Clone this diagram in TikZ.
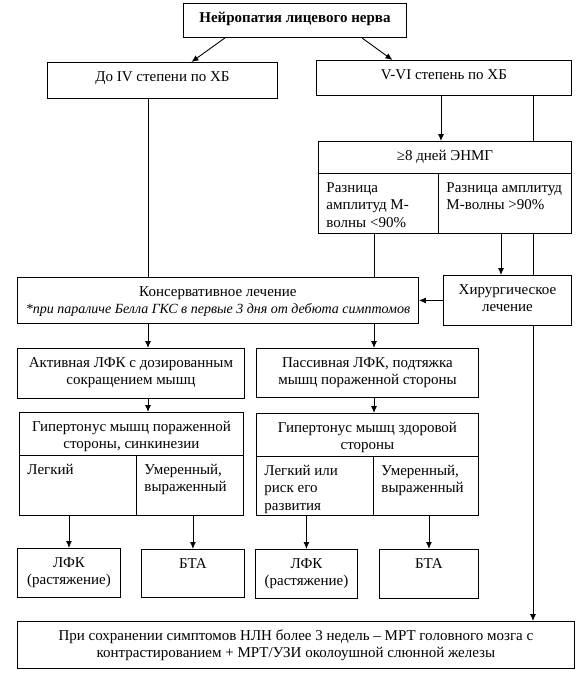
\documentclass[tikz,border=0pt]{standalone}
\usepackage{fontspec}
\setmainfont{Liberation Serif}
\usetikzlibrary{arrows.meta}

\newcommand{\boxtext}[3]{\parbox[c][\dimexpr #2pt-13pt\relax][t]{\dimexpr #1pt-16pt\relax}{#3}}

\begin{document}
\begin{tikzpicture}[x=1pt, y=-1pt]

  \tikzset{
    box/.style = {draw, line width=0.9pt, inner xsep=8pt, inner ysep=6.5pt,
      anchor=north west, font=\fontsize{15}{17.5}\selectfont},
    link/.style = {line width=0.9pt},
    arr/.style = {line width=0.9pt, -{Latex[length=7pt, width=6pt]}}}

  \useasboundingbox (0,0) rectangle (585,673);

  \coordinate (colA) at (148,0);
  \coordinate (colB) at (374,0);
  \coordinate (colC) at (441,0);
  \coordinate (colE) at (501,0);
  \coordinate (colD) at (533,0);

  \node[box] (title) at (183,3) {\boxtext{223}{34}{\centering\strut\bfseries Нейропатия лицевого нерва}};
  \node[box] (doIV) at (47,62) {\boxtext{230}{36}{\centering\strut До IV степени по ХБ}};
  \node[box] (vvi) at (316,60) {\boxtext{255}{35}{\centering\strut V-VI степень по ХБ}};

  \begin{scope}
    \node[box] (enmg) at (318,141) {\boxtext{253}{32}{\centering\strut ≥8 дней ЭНМГ}};
    \node[box] (enmgL) at (318,173) {\boxtext{120}{60}{\raggedright\strut Разница\\амплитуд М-\\волны <90\%}};
    \node[box] (enmgR) at (438,173) {\boxtext{133}{60}{\raggedright\strut\mbox{Разница амплитуд}\\М-волны >90\%}};
  \end{scope}

  \node[box] (kons) at (17,277) {\boxtext{401}{46}{\centering\strut Консервативное лечение\\\mbox{\fontsize{14}{17.5}\selectfont\itshape *при параличе Белла ГКС в первые 3 дня от дебюта симптомов}}};
  \node[box] (hir) at (443,275) {\boxtext{128}{50}{\centering\strut Хирургическое\\лечение}};

  \node[box] (aktiv) at (17,348) {\boxtext{227}{50}{\centering\strut Активная ЛФК с дозированным\\сокращением мышц}};
  \node[box] (passiv) at (256,348) {\boxtext{222}{49}{\centering\strut Пассивная ЛФК, подтяжка\\мышц пораженной стороны}};

  \begin{scope}
    \node[box] (gipL) at (19,412) {\boxtext{224}{43}{\centering\strut Гипертонус мышц пораженной\\стороны, синкинезии}};
    \node[box] (gipLa) at (19,455) {\boxtext{117}{60}{\raggedright\strut Легкий}};
    \node[box] (gipLb) at (136,455) {\boxtext{107}{60}{\raggedright\strut Умеренный,\\выраженный}};
  \end{scope}

  \begin{scope}
    \node[box] (gipR) at (256,413) {\boxtext{222}{43}{\centering\strut Гипертонус мышц здоровой\\стороны}};
    \node[box] (gipRa) at (256,456) {\boxtext{117}{59}{\raggedright\strut Легкий или\\риск его\\развития}};
    \node[box] (gipRb) at (373,456) {\boxtext{105}{59}{\raggedright\strut Умеренный,\\выраженный}};
  \end{scope}

  \node[box] (lfkL) at (17,548) {\boxtext{103}{49}{\centering\strut ЛФК\\(растяжение)}};
  \node[box] (btaL) at (141,549) {\boxtext{103}{48}{\centering\strut БТА}};
  \node[box] (lfkR) at (255,549) {\boxtext{102}{49}{\centering\strut ЛФК\\(растяжение)}};
  \node[box] (btaR) at (379,549) {\boxtext{99}{49}{\centering\strut БТА}};

  \node[box] (mrt) at (17,621) {\boxtext{557}{47}{\centering\strut При сохранении симптомов НЛН более 3 недель – МРТ головного мозга с\\контрастированием + МРТ/УЗИ околоушной слюнной железы}};

  \draw[arr] ([xshift=-70pt]title.south) -- ([xshift=29pt]doIV.north);
  \draw[arr] ([xshift=67pt]title.south) -- ([xshift=-51.5pt]vvi.north);

  \draw[link] (doIV.south -| colA) -- (kons.north -| colA);
  \draw[arr] (vvi.south -| colC) -- (enmg.north -| colC);
  \draw[link] (vvi.south -| colD) -- (enmg.north -| colD);
  \draw[link] (enmgL.south -| colB) -- (kons.north -| colB);
  \draw[arr] (enmgR.south -| colE) -- (hir.north -| colE);
  \draw[link] (enmgR.south -| colD) -- (hir.north -| colD);
  \draw[arr] (hir.west) -- (kons.east);
  \draw[arr] (hir.south -| colD) -- (mrt.north -| colD);

  \draw[arr] (kons.south -| colA) -- (aktiv.north -| colA);
  \draw[arr] (kons.south -| colB) -- (passiv.north -| colB);
  \draw[arr] (aktiv.south -| colA) -- (gipL.north -| colA);
  \draw[arr] (passiv.south -| colB) -- (gipR.north -| colB);

  \draw[arr] (gipLa.south -| lfkL.north) -- (lfkL.north);
  \draw[arr] (gipLb.south -| btaL.north) -- (btaL.north);
  \draw[arr] (gipRa.south -| lfkR.north) -- (lfkR.north);
  \draw[arr] (gipRb.south -| btaR.north) -- (btaR.north);
\end{tikzpicture}
\end{document}
